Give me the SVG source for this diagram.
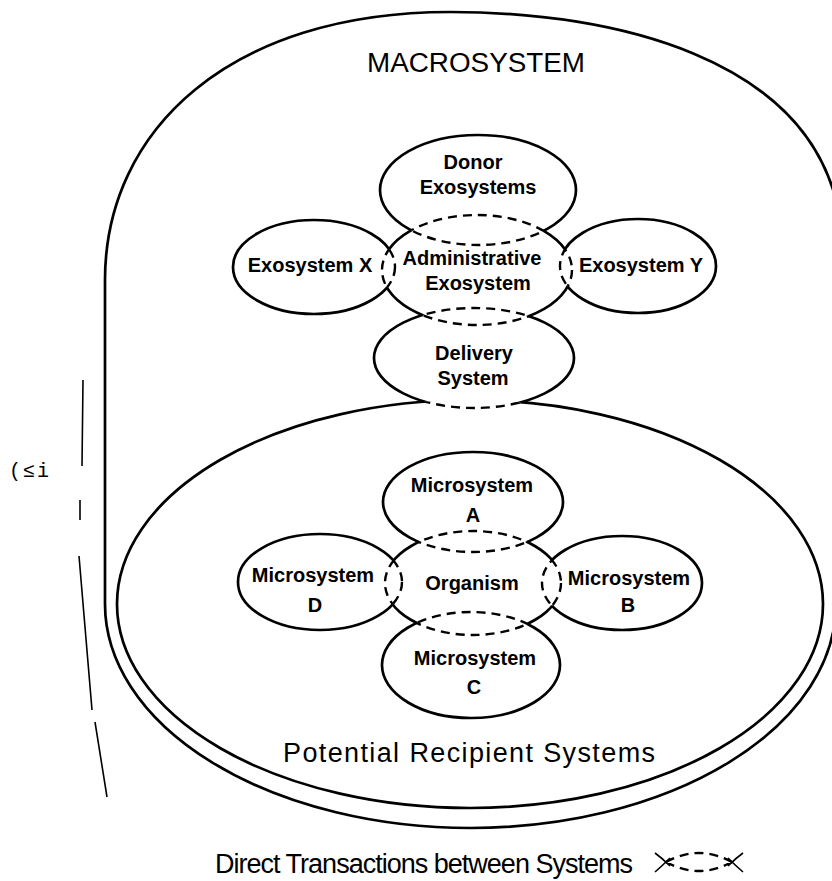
<svg xmlns="http://www.w3.org/2000/svg" width="832" height="881" viewBox="0 0 832 881">
<style>
  .solid { fill: none; stroke: #000; stroke-width: 2.7; }
  .dash { fill: none; stroke: #000; stroke-width: 2.4; stroke-dasharray: 9 6; }
  .thin { fill: none; stroke: #000; stroke-width: 1.6; }
  .node { font-family: "Liberation Sans", Arial, sans-serif; font-weight: bold; font-size: 20px; fill: #000; text-anchor: middle; }
  .big { font-family: "Liberation Sans", Arial, sans-serif; font-size: 27px; fill: #000; }
</style>
<defs>
  <ellipse id="e-donor" cx="478" cy="190" rx="98" ry="55"/>
  <ellipse id="e-admin" cx="477" cy="270" rx="95" ry="55"/>
  <ellipse id="e-x" cx="314" cy="267" rx="81" ry="47"/>
  <ellipse id="e-y" cx="638" cy="266" rx="78" ry="47"/>
  <ellipse id="e-del" cx="474" cy="358" rx="100" ry="50"/>
  <ellipse id="e-rec" cx="470" cy="604" rx="353" ry="204"/>
  <ellipse id="e-a" cx="473" cy="502" rx="90" ry="50"/>
  <ellipse id="e-org" cx="473" cy="583" rx="88" ry="52"/>
  <ellipse id="e-c" cx="471" cy="665" rx="89" ry="53"/>
  <ellipse id="e-d" cx="320" cy="582" rx="82" ry="48"/>
  <ellipse id="e-b" cx="622" cy="583" rx="80" ry="47"/>

  <mask id="m-admin" maskUnits="userSpaceOnUse" x="0" y="0" width="832" height="881">
    <rect x="0" y="0" width="832" height="881" fill="#fff"/>
    <use href="#e-donor" fill="#000"/><use href="#e-x" fill="#000"/>
    <use href="#e-y" fill="#000"/><use href="#e-del" fill="#000"/>
  </mask>
  <mask id="m-out-admin" maskUnits="userSpaceOnUse" x="0" y="0" width="832" height="881">
    <rect x="0" y="0" width="832" height="881" fill="#fff"/>
    <use href="#e-admin" fill="#000"/>
  </mask>
  <mask id="m-del" maskUnits="userSpaceOnUse" x="0" y="0" width="832" height="881">
    <rect x="0" y="0" width="832" height="881" fill="#fff"/>
    <use href="#e-admin" fill="#000"/><use href="#e-rec" fill="#000"/>
  </mask>
  <mask id="m-rec" maskUnits="userSpaceOnUse" x="0" y="0" width="832" height="881">
    <rect x="0" y="0" width="832" height="881" fill="#fff"/>
    <use href="#e-del" fill="#000"/>
  </mask>
  <mask id="m-org" maskUnits="userSpaceOnUse" x="0" y="0" width="832" height="881">
    <rect x="0" y="0" width="832" height="881" fill="#fff"/>
    <use href="#e-a" fill="#000"/><use href="#e-b" fill="#000"/>
    <use href="#e-c" fill="#000"/><use href="#e-d" fill="#000"/>
  </mask>
  <mask id="m-out-org" maskUnits="userSpaceOnUse" x="0" y="0" width="832" height="881">
    <rect x="0" y="0" width="832" height="881" fill="#fff"/>
    <use href="#e-org" fill="#000"/>
  </mask>

  <clipPath id="c-admin"><use href="#e-admin"/></clipPath>
  <clipPath id="c-petals-top"><use href="#e-donor"/><use href="#e-x"/><use href="#e-y"/><use href="#e-del"/></clipPath>
  <clipPath id="c-del"><use href="#e-admin"/><use href="#e-rec"/></clipPath>
  <clipPath id="c-org"><use href="#e-org"/></clipPath>
  <clipPath id="c-petals-bot"><use href="#e-a"/><use href="#e-b"/><use href="#e-c"/><use href="#e-d"/></clipPath>
</defs>

<rect x="0" y="0" width="832" height="881" fill="#fff"/>

<g id="macrosystem">
  <path class="solid" d="M105,604 L105,280 C105,130 230,12 450,12 C620,12 800,60 836,200 L836,604 A365.5,224 0 0 1 105,604 Z"/>
  <text class="big" x="476" y="72" text-anchor="middle" textLength="218" lengthAdjust="spacingAndGlyphs">MACROSYSTEM</text>
</g>

<g id="side-mark">
  <path class="thin" d="M83,380 L82,466 M80,500 L80,520 M79,556 L92,710 M95,722 L107,797"/>
  <text x="9" y="477" font-family="Liberation Mono, monospace" font-size="20" letter-spacing="2" fill="#000">(≤i</text>
</g>

<g id="recipient-systems">
  <use href="#e-rec" class="solid" mask="url(#m-rec)"/>
  <text class="big" x="469" y="762" text-anchor="middle" textLength="372" lengthAdjust="spacing">Potential Recipient Systems</text>
</g>

<g id="donor-exosystems">
  <use href="#e-donor" class="solid" mask="url(#m-out-admin)"/>
  <text class="node" x="473" y="169">Donor</text>
  <text class="node" x="478" y="194">Exosystems</text>
</g>
<g id="exosystem-x">
  <use href="#e-x" class="solid" mask="url(#m-out-admin)"/>
  <text class="node" x="310" y="272">Exosystem X</text>
</g>
<g id="exosystem-y">
  <use href="#e-y" class="solid" mask="url(#m-out-admin)"/>
  <text class="node" x="641" y="272">Exosystem Y</text>
</g>
<g id="administrative-exosystem">
  <use href="#e-admin" class="solid" mask="url(#m-admin)"/>
  <text class="node" x="472" y="265">Administrative</text>
  <text class="node" x="478" y="290">Exosystem</text>
</g>
<g id="delivery-system">
  <use href="#e-del" class="solid" mask="url(#m-del)"/>
  <text class="node" x="474" y="360">Delivery</text>
  <text class="node" x="473" y="385">System</text>
</g>

<g id="microsystem-a">
  <use href="#e-a" class="solid" mask="url(#m-out-org)"/>
  <text class="node" x="472" y="492">Microsystem</text>
  <text class="node" x="473" y="522">A</text>
</g>
<g id="microsystem-d">
  <use href="#e-d" class="solid" mask="url(#m-out-org)"/>
  <text class="node" x="313" y="582">Microsystem</text>
  <text class="node" x="315" y="612">D</text>
</g>
<g id="microsystem-b">
  <use href="#e-b" class="solid" mask="url(#m-out-org)"/>
  <text class="node" x="629" y="585">Microsystem</text>
  <text class="node" x="628" y="612">B</text>
</g>
<g id="microsystem-c">
  <use href="#e-c" class="solid" mask="url(#m-out-org)"/>
  <text class="node" x="475" y="665">Microsystem</text>
  <text class="node" x="474" y="694">C</text>
</g>
<g id="organism">
  <use href="#e-org" class="solid" mask="url(#m-org)"/>
  <text class="node" x="472" y="590">Organism</text>
</g>

<g id="connectors">
  <use href="#e-admin" class="dash" clip-path="url(#c-petals-top)"/>
  <use href="#e-donor" class="dash" clip-path="url(#c-admin)"/>
  <use href="#e-x" class="dash" clip-path="url(#c-admin)"/>
  <use href="#e-y" class="dash" clip-path="url(#c-admin)"/>
  <use href="#e-del" class="dash" clip-path="url(#c-del)"/>
  <use href="#e-org" class="dash" clip-path="url(#c-petals-bot)"/>
  <use href="#e-a" class="dash" clip-path="url(#c-org)"/>
  <use href="#e-b" class="dash" clip-path="url(#c-org)"/>
  <use href="#e-c" class="dash" clip-path="url(#c-org)"/>
  <use href="#e-d" class="dash" clip-path="url(#c-org)"/>
</g>

<g id="legend">
  <text class="big" x="215" y="873" textLength="418" lengthAdjust="spacing">Direct Transactions between Systems</text>
  <path class="thin" d="M655,853 Q662,858 670,866 M655,872 Q662,866 670,858 M743,853 Q736,858 728,866 M743,872 Q736,866 728,858" stroke-width="2"/>
  <path class="dash" d="M666,862 Q699,844 732,862 M666,862 Q699,880 732,862" stroke-width="2" stroke-dasharray="7 5"/>
</g>
</svg>
